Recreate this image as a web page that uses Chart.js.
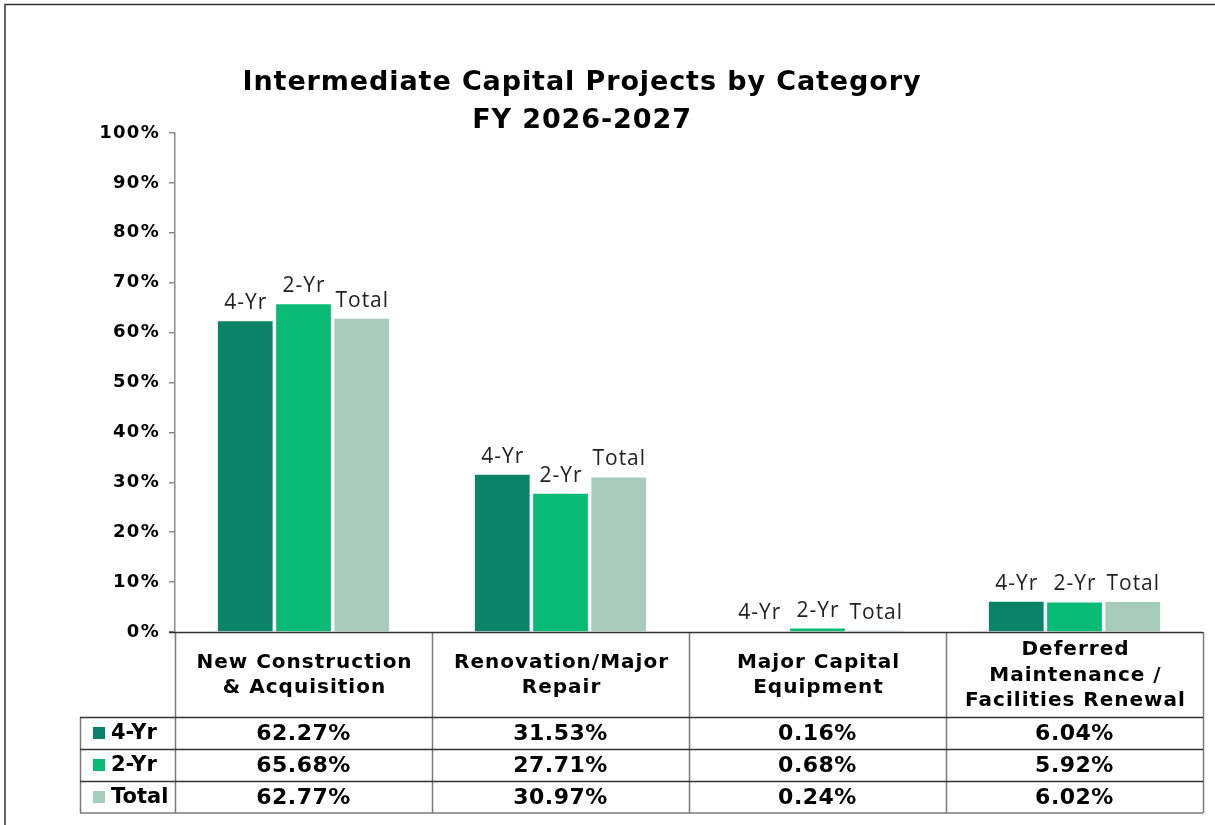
<!DOCTYPE html>
<html>
<head>
<meta charset="utf-8">
<title>Intermediate Capital Projects by Category</title>
<script src="https://cdn.jsdelivr.net/npm/chart.js@4.4.1/dist/chart.umd.min.js"></script>
<style>
  html, body { margin: 0; padding: 0; background: #fff; }
  #wrap { width: 1215px; height: 825px; position: relative; }
</style>
</head>
<body>
<div id="wrap"><canvas id="capChart"></canvas></div>
<script>
// chart data
const categories = [
  ['New Construction', '& Acquisition'],
  ['Renovation/Major', 'Repair'],
  ['Major Capital', 'Equipment'],
  ['Deferred', 'Maintenance /', 'Facilities Renewal']
];
const seriesNames = ['4-Yr', '2-Yr', 'Total'];
const fourYr = [62.27, 31.53, 0.16, 6.04];
const twoYr = [65.68, 27.71, 0.68, 5.92];
const totalAll = [62.77, 30.97, 0.24, 6.02];
const yTickValues = [0, 10, 20, 30, 40, 50, 60, 70, 80, 90, 100];
const titleLines = ['Intermediate Capital Projects by Category', 'FY 2026-2027'];

const colors = ['#0a8366', '#09bb76', '#a7cbbd'];
const seriesValues = [fourYr, twoYr, totalAll];

// title + frame, also widens the tick label spacing
const frameTitle = {
  id: 'frameTitle',
  beforeDraw(chart) {
    const ctx = chart.ctx;
    ctx.save();
    ctx.strokeStyle = '#333';
    ctx.lineWidth = 1.5;
    ctx.beginPath();
    ctx.moveTo(5, 825);
    ctx.lineTo(5, 4.5);
    ctx.lineTo(1215, 4.5);
    ctx.stroke();

    ctx.fillStyle = '#000';
    ctx.font = 'bold 27px "DejaVu Sans"';
    ctx.letterSpacing = '0.9px';
    ctx.textAlign = 'center';
    ctx.textBaseline = 'middle';
    ctx.fillText(titleLines[0], 582, 83);
    ctx.fillText(titleLines[1], 582, 121);
    ctx.restore();
    // y tick labels (drawn by the scale next) get a little spacing
    ctx.letterSpacing = '1.3px';
  }
};

// bar labels (series name above each bar)
const barLabels = {
  id: 'barLabels',
  afterDatasetsDraw(chart) {
    const ctx = chart.ctx;
    ctx.save();
    ctx.fillStyle = '#222';
    ctx.font = '21px "Open Sans"';
    ctx.letterSpacing = '1px';
    ctx.textAlign = 'center';
    ctx.textBaseline = 'alphabetic';
    chart.data.datasets.forEach((ds, i) => {
      chart.getDatasetMeta(i).data.forEach(bar => {
        ctx.fillText(ds.label, bar.x + 0.5, bar.y - 12);
      });
    });
    ctx.restore();
  }
};

// data table under the plot
const dataTable = {
  id: 'dataTable',
  afterDraw(chart) {
    const ctx = chart.ctx;
    const area = chart.chartArea;
    const colW = (area.right - area.left) / categories.length;
    const top = area.bottom;
    const headBottom = top + 85;
    const rowH = 32;
    const bottom = headBottom + rowH * seriesNames.length;
    const legLeft = 80;

    ctx.save();
    // vertical lines
    ctx.strokeStyle = '#7a7a7a';
    ctx.lineWidth = 1.5;
    ctx.beginPath();
    for (let j = 0; j <= categories.length; j++) {
      const x = Math.round(area.left + colW * j) + 0.5;
      ctx.moveTo(x, top);
      ctx.lineTo(x, bottom);
    }
    ctx.moveTo(legLeft + 0.5, headBottom);
    ctx.lineTo(legLeft + 0.5, bottom);
    ctx.moveTo(legLeft, bottom);
    ctx.lineTo(area.right, bottom);
    ctx.stroke();

    // horizontal lines
    ctx.strokeStyle = '#333';
    ctx.lineWidth = 1.3;
    ctx.beginPath();
    ctx.moveTo(area.left - 6, top + 0.5);
    ctx.lineTo(area.right, top + 0.5);
    for (let r = 0; r < seriesNames.length; r++) {
      const y = headBottom + rowH * r + 0.5;
      ctx.moveTo(legLeft, y);
      ctx.lineTo(area.right, y);
    }
    ctx.stroke();

    // header text
    ctx.fillStyle = '#000';
    ctx.textAlign = 'center';
    ctx.textBaseline = 'middle';
    ctx.font = 'bold 20px "DejaVu Sans"';
    ctx.letterSpacing = '1px';
    const lineH = 25.5;
    categories.forEach((lines, j) => {
      const cx = area.left + colW * (j + 0.5) + 1;
      const cy = (top + headBottom) / 2 + 1;
      lines.forEach((t, k) => {
        ctx.fillText(t, cx, cy + (k - (lines.length - 1) / 2) * lineH);
      });
    });

    // rows
    seriesNames.forEach((name, r) => {
      const cy = headBottom + rowH * (r + 0.5) + 1;
      ctx.font = 'bold 22px "DejaVu Sans"';
      ctx.letterSpacing = '0.5px';
      ctx.textAlign = 'center';
      seriesValues[r].forEach((v, j) => {
        ctx.fillText(v.toFixed(2) + '%', area.left + colW * (j + 0.5), cy);
      });
      ctx.fillStyle = colors[r];
      ctx.fillRect(legLeft + 13, cy - 7, 12, 12);
      ctx.fillStyle = '#000';
      ctx.textAlign = 'left';
      ctx.font = 'bold 21px "DejaVu Sans"';
      ctx.letterSpacing = '0px';
      ctx.fillText(name, legLeft + 31, cy);
    });
    ctx.restore();
    ctx.letterSpacing = '0px';
  }
};

const data = {
  labels: categories.map(c => c.join(' ')),
  datasets: seriesNames.map((name, i) => ({
    label: name,
    data: seriesValues[i],
    backgroundColor: colors[i],
    borderWidth: 0,
    categoryPercentage: 0.68,
    barPercentage: 0.94
  }))
};

new Chart(document.getElementById('capChart'), {
  type: 'bar',
  data: data,
  options: {
    responsive: true,
    maintainAspectRatio: false,
    animation: false,
    layout: { padding: { left: 80, right: 12, top: 133, bottom: 193 } },
    scales: {
      x: { display: false },
      y: {
        min: 0,
        max: 100,
        afterFit(scale) { scale.width = 95; },
        afterBuildTicks(scale) { scale.ticks = yTickValues.map(v => ({ value: v })); },
        border: { color: '#8a8a8a', width: 1.5 },
        grid: { drawOnChartArea: false, drawTicks: true, tickLength: 6, color: '#8a8a8a', lineWidth: 1.5 },
        ticks: {
          padding: 9,
          color: '#000',
          font: { family: 'DejaVu Sans', size: 18, weight: 'bold' },
          callback: v => v + '%'
        }
      }
    },
    plugins: {
      legend: { display: false },
      title: { display: false },
      tooltip: { enabled: false }
    }
  },
  plugins: [frameTitle, barLabels, dataTable]
});
</script>
</body>
</html>
